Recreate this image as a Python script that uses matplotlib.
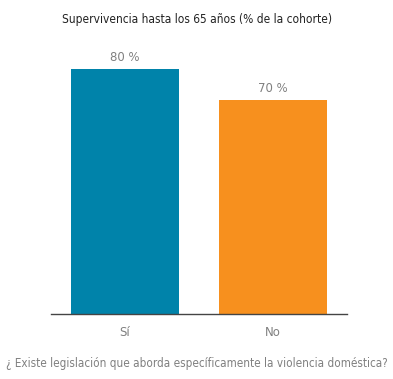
import matplotlib.pyplot as plt

# Datos
categorias = ['Sí', 'No']
valores = [80, 70]
colores = ['#0083AA', '#F7901E']

plt.rcParams['font.family'] = ['DejaVu Sans']
plt.rcParams['font.stretch'] = 'condensed'

fig = plt.figure(figsize=(3.93, 3.79), dpi=100)
ax = fig.add_axes([51/393, 65/379, 296/393, 274/379])

x = range(len(categorias))
ax.bar(x, valores, width=0.723, color=colores)
for xi, v in zip(x, valores):
    ax.text(xi, v + 1.6, f'{v} %', ha='center', va='bottom', fontsize=9.4, color='#808080')

ax.set_xlim(-0.5, 1.5)
ax.set_ylim(0, 80 * 274 / 245)
ax.set_xticks(list(x))
ax.set_xticklabels(categorias, fontsize=9.4, color='#808080')
ax.tick_params(axis='x', length=0, pad=9)
ax.set_yticks([])
for s in ['top', 'right', 'left']:
    ax.spines[s].set_visible(False)
ax.spines['bottom'].set_color('#444444')
ax.spines['bottom'].set_linewidth(1)

fig.text(0.5, 1 - 19/379, 'Supervivencia hasta los 65 años (% de la cohorte)',
         ha='center', va='center', fontsize=8.6, color='#222222')
fig.text(0.5, 1 - 364/379, '¿ Existe legislación que aborda específicamente la violencia doméstica?',
         ha='center', va='center', fontsize=8.4, color='#808080')

fig.savefig('out.png', dpi=100)
